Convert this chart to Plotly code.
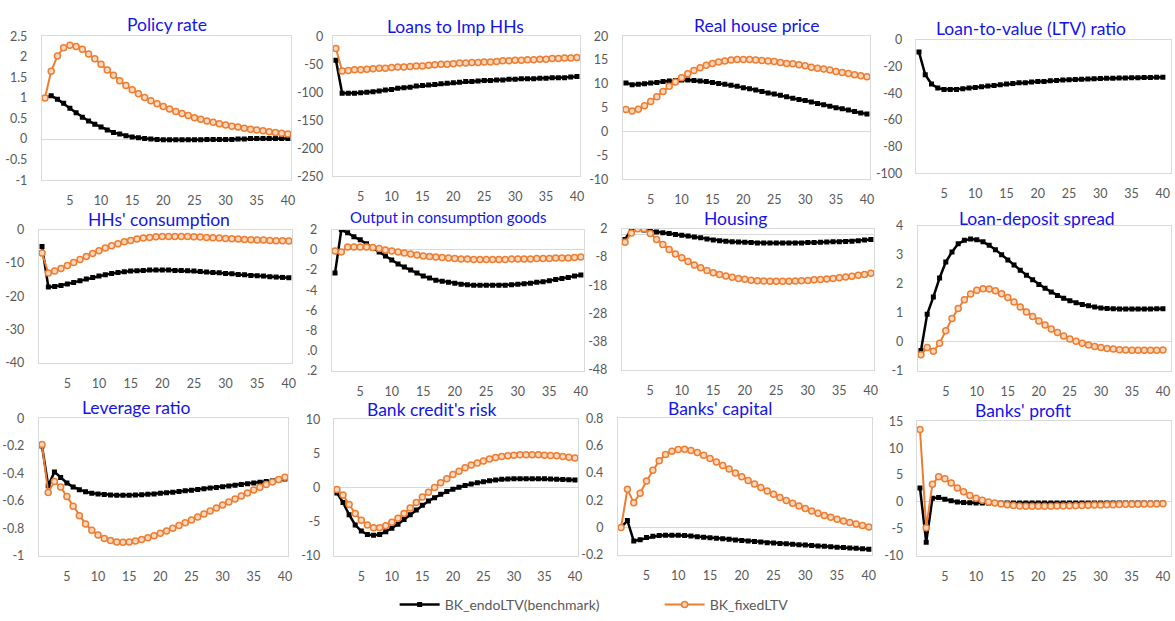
import plotly.graph_objects as go

W, H = 1175, 621

periods = list(range(1, 41))
x_tick_vals = [5, 10, 15, 20, 25, 30, 35, 40]
x_tick_text = ["5", "10", "15", "20", "25", "30", "35", "40"]

series_names = ["BK_endoLTV(benchmark)", "BK_fixedLTV"]

titles = ["Policy rate", "Loans to Imp HHs", "Real house price", "Loan-to-value (LTV) ratio",
          "HHs' consumption", "Output in consumption goods", "Housing", "Loan-deposit spread",
          "Leverage ratio", "Bank credit's risk", "Banks' capital", "Banks' profit"]

# ---------------- data ----------------
endo_policy = [1.0, 1.05, 0.97, 0.87, 0.75, 0.64, 0.53, 0.44, 0.36, 0.29, 0.22, 0.16, 0.12, 0.08, 0.05,
               0.03, 0.01, 0.0, -0.01, -0.02, -0.02, -0.02, -0.02, -0.02, -0.02, -0.02, -0.01, -0.01,
               -0.01, -0.01, -0.01, 0.0, 0.0, 0.01, 0.01, 0.01, 0.01, 0.01, 0.01, 0.01]
fixed_policy = [1.0, 1.65, 2.02, 2.22, 2.28, 2.25, 2.18, 2.07, 1.95, 1.82, 1.68, 1.55, 1.42, 1.30, 1.20,
                1.10, 1.01, 0.93, 0.86, 0.79, 0.73, 0.67, 0.62, 0.57, 0.52, 0.48, 0.44, 0.41, 0.37,
                0.34, 0.31, 0.29, 0.26, 0.24, 0.22, 0.20, 0.18, 0.16, 0.14, 0.12]

endo_loans = [-43, -102, -102, -102, -101, -100, -99, -98, -96, -95, -93, -92, -91, -89, -88, -87, -86,
              -85, -84, -83, -82, -81, -81, -80, -79, -79, -78, -78, -77, -77, -76, -76, -76, -75, -75,
              -74, -74, -74, -73, -72]
fixed_loans = [-22, -62, -61, -60, -60, -59, -58, -57, -57, -56, -55, -55, -54, -53, -53, -52, -51, -50,
               -50, -49, -48, -48, -47, -47, -46, -46, -45, -44, -44, -43, -43, -42, -42, -41, -41, -40,
               -40, -39, -39, -38]

endo_house = [10.2, 9.8, 9.9, 10.0, 10.2, 10.3, 10.5, 10.6, 10.7, 10.8, 10.8, 10.7, 10.6, 10.5, 10.3,
              10.1, 9.9, 9.7, 9.5, 9.2, 9.0, 8.7, 8.4, 8.1, 7.9, 7.6, 7.3, 7.0, 6.7, 6.5, 6.2, 5.9, 5.6,
              5.3, 5.0, 4.8, 4.5, 4.2, 3.9, 3.7]
fixed_house = [4.6, 4.3, 4.7, 5.4, 6.3, 7.3, 8.4, 9.5, 10.4, 11.3, 12.1, 12.8, 13.4, 13.9, 14.3, 14.6,
               14.8, 15.0, 15.1, 15.1, 15.1, 15.0, 14.9, 14.8, 14.7, 14.5, 14.3, 14.2, 14.0, 13.8, 13.5,
               13.3, 13.1, 12.9, 12.6, 12.4, 12.2, 11.9, 11.7, 11.5]

endo_ltv = [-9, -26, -33, -36, -37, -37, -37, -36.5, -36, -35.5, -35, -34.5, -34, -33.5, -33, -32.5,
            -32, -32, -31.5, -31, -31, -30.5, -30.3, -30, -29.8, -29.6, -29.4, -29.2, -29, -28.9,
            -28.7, -28.6, -28.5, -28.4, -28.3, -28.2, -28.1, -28, -27.9, -27.8]
fixed_ltv = None

endo_cons = [-5, -17.2, -17.0, -16.7, -16.3, -15.8, -15.3, -14.8, -14.3, -13.9, -13.5, -13.1, -12.8,
             -12.6, -12.4, -12.3, -12.2, -12.1, -12.1, -12.1, -12.1, -12.2, -12.2, -12.3, -12.4, -12.5,
             -12.7, -12.8, -12.9, -13.1, -13.2, -13.4, -13.5, -13.7, -13.8, -13.9, -14.1, -14.2, -14.3,
             -14.4]
fixed_cons = [-7, -13, -12.4, -11.6, -10.7, -9.8, -8.9, -8.0, -7.1, -6.3, -5.5, -4.8, -4.2, -3.6, -3.2,
              -2.8, -2.5, -2.3, -2.1, -2.0, -2.0, -2.0, -2.0, -2.0, -2.1, -2.2, -2.3, -2.4, -2.5, -2.6,
              -2.7, -2.8, -2.9, -3.0, -3.1, -3.1, -3.2, -3.3, -3.3, -3.4]

endo_output = [-2.3, 2.0, 1.7, 1.3, 1.0, 0.6, 0.2, -0.2, -0.6, -1.0, -1.4, -1.7, -2.0, -2.3, -2.6, -2.8,
               -3.0, -3.1, -3.2, -3.3, -3.4, -3.45, -3.5, -3.5, -3.5, -3.5, -3.5, -3.5, -3.45, -3.4,
               -3.35, -3.3, -3.2, -3.15, -3.05, -2.95, -2.85, -2.75, -2.6, -2.5]
fixed_output = [-0.1, -0.2, 0.3, 0.3, 0.3, 0.3, 0.25, 0.15, 0.0, -0.1, -0.2, -0.3, -0.4, -0.5, -0.6,
                -0.65, -0.7, -0.75, -0.8, -0.85, -0.9, -0.9, -0.95, -0.95, -0.95, -0.95, -0.95, -0.95,
                -0.9, -0.9, -0.9, -0.9, -0.85, -0.85, -0.85, -0.8, -0.8, -0.8, -0.75, -0.7]

endo_housing = [-1.8, 1.8, 2.0, 1.6, 1.2, 0.9, 0.6, 0.3, 0.0, -0.3, -0.6, -0.9, -1.2, -1.6, -2.0, -2.2,
                -2.4, -2.6, -2.7, -2.8, -2.9, -3.0, -3.0, -3.0, -3.0, -3.0, -3.0, -3.0, -3.0, -2.9,
                -2.9, -2.8, -2.7, -2.6, -2.6, -2.5, -2.4, -2.2, -2.0, -1.8]
fixed_housing = [-2.8, 0.5, 2.0, 2.0, 0.3, -1.8, -3.6, -5.3, -6.9, -8.3, -9.6, -10.8, -11.8, -12.8,
                 -13.6, -14.2, -14.7, -15.2, -15.6, -15.9, -16.2, -16.4, -16.5, -16.6, -16.6, -16.6,
                 -16.6, -16.5, -16.4, -16.3, -16.1, -16.0, -15.8, -15.6, -15.4, -15.1, -14.8, -14.5,
                 -14.2, -13.8]

endo_spread = [-0.3, 0.95, 1.55, 2.2, 2.75, 3.1, 3.38, 3.5, 3.55, 3.52, 3.45, 3.33, 3.18, 3.0, 2.82,
               2.65, 2.47, 2.3, 2.14, 1.98, 1.85, 1.72, 1.6, 1.5, 1.42, 1.35, 1.29, 1.24, 1.2, 1.17,
               1.15, 1.14, 1.13, 1.13, 1.13, 1.13, 1.13, 1.13, 1.14, 1.14]
fixed_spread = [-0.45, -0.2, -0.33, -0.05, 0.38, 0.8, 1.15, 1.45, 1.65, 1.78, 1.83, 1.82, 1.76, 1.66,
                1.53, 1.37, 1.2, 1.03, 0.87, 0.72, 0.58, 0.44, 0.32, 0.2, 0.1, 0.02, -0.05, -0.11,
                -0.16, -0.2, -0.23, -0.25, -0.27, -0.28, -0.29, -0.29, -0.29, -0.29, -0.29, -0.28]

endo_leverage = [-0.2, -0.49, -0.39, -0.43, -0.47, -0.50, -0.52, -0.535, -0.545, -0.55, -0.555, -0.558,
                 -0.56, -0.56, -0.56, -0.558, -0.556, -0.553, -0.55, -0.546, -0.542, -0.538, -0.533,
                 -0.528, -0.523, -0.518, -0.513, -0.508, -0.503, -0.498, -0.493, -0.488, -0.482,
                 -0.477, -0.471, -0.466, -0.46, -0.454, -0.448, -0.442]
fixed_leverage = [-0.19, -0.54, -0.46, -0.5, -0.57, -0.64, -0.71, -0.77, -0.815, -0.85, -0.875, -0.89,
                  -0.9, -0.903, -0.9, -0.893, -0.883, -0.87, -0.855, -0.838, -0.82, -0.8, -0.78, -0.76,
                  -0.74, -0.718, -0.697, -0.675, -0.653, -0.631, -0.609, -0.587, -0.565, -0.543,
                  -0.522, -0.502, -0.482, -0.463, -0.445, -0.428]

endo_risk = [-0.8, -2.2, -4.0, -5.5, -6.4, -6.9, -7.0, -6.9, -6.5, -6.0, -5.4, -4.7, -4.0, -3.3, -2.6,
             -2.0, -1.5, -1.0, -0.6, -0.25, 0.05, 0.3, 0.5, 0.7, 0.85, 1.0, 1.1, 1.2, 1.25, 1.3, 1.3,
             1.3, 1.3, 1.3, 1.28, 1.25, 1.22, 1.18, 1.14, 1.1]
fixed_risk = [-0.3, -1.1, -2.5, -3.8, -4.8, -5.5, -5.9, -5.9, -5.6, -5.1, -4.5, -3.8, -3.0, -2.2, -1.4,
              -0.7, 0.0, 0.7, 1.3, 1.9, 2.4, 2.9, 3.3, 3.6, 3.9, 4.2, 4.4, 4.55, 4.65, 4.75, 4.8, 4.8,
              4.8, 4.8, 4.75, 4.7, 4.65, 4.55, 4.45, 4.35]

endo_capital = [0.0, 0.05, -0.1, -0.09, -0.075, -0.065, -0.06, -0.058, -0.057, -0.058, -0.06, -0.064,
                -0.068, -0.072, -0.076, -0.08, -0.084, -0.088, -0.092, -0.096, -0.1, -0.104, -0.108,
                -0.112, -0.115, -0.118, -0.121, -0.124, -0.127, -0.13, -0.133, -0.136, -0.139,
                -0.142, -0.145, -0.148, -0.151, -0.153, -0.156, -0.16]
fixed_capital = [0.0, 0.28, 0.18, 0.25, 0.34, 0.42, 0.49, 0.535, 0.56, 0.572, 0.573, 0.565, 0.55, 0.53,
                 0.505, 0.48, 0.455, 0.428, 0.4, 0.372, 0.345, 0.318, 0.292, 0.267, 0.243, 0.22,
                 0.198, 0.177, 0.157, 0.138, 0.12, 0.104, 0.088, 0.074, 0.06, 0.047, 0.035, 0.024,
                 0.013, 0.003]

endo_profit = [2.6, -7.5, 0.7, 0.8, 0.5, 0.2, 0.0, -0.1, -0.15, -0.2, -0.2, -0.2, -0.2, -0.2, -0.2,
               -0.2, -0.2, -0.2, -0.2, -0.2, -0.2, -0.2, -0.2, -0.2, -0.2, -0.2, -0.2, -0.2, -0.2,
               -0.2, -0.2, -0.2, -0.2, -0.2, -0.2, -0.2, -0.2, -0.2, -0.2, -0.2]
fixed_profit = [13.5, -4.8, 3.3, 4.7, 4.3, 3.5, 2.6, 1.9, 1.2, 0.7, 0.3, 0.0, -0.2, -0.4, -0.55, -0.65,
                -0.75, -0.8, -0.8, -0.8, -0.8, -0.8, -0.78, -0.75, -0.72, -0.7, -0.67, -0.64, -0.6,
                -0.57, -0.54, -0.51, -0.48, -0.46, -0.44, -0.42, -0.4, -0.38, -0.37, -0.36]

# y tick values / labels per panel
y_ticks = [
    [-1, -0.5, 0, 0.5, 1, 1.5, 2, 2.5],
    [-250, -200, -150, -100, -50, 0],
    [-10, -5, 0, 5, 10, 15, 20],
    [-100, -80, -60, -40, -20, 0],
    [-40, -30, -20, -10, 0],
    [-12, -10, -8, -6, -4, -2, 0, 2],
    [-48, -38, -28, -18, -8, 2],
    [-1, 0, 1, 2, 3, 4],
    [-1, -0.8, -0.6, -0.4, -0.2, 0],
    [-10, -5, 0, 5, 10],
    [-0.2, 0, 0.2, 0.4, 0.6, 0.8],
    [-10, -5, 0, 5, 10, 15],
]
y_tick_text = [
    ["-1", "-0.5", "0", "0.5", "1", "1.5", "2", "2.5"],
    ["-250", "-200", "-150", "-100", "-50", "0"],
    ["-10", "-5", "0", "5", "10", "15", "20"],
    ["-100", "-80", "-60", "-40", "-20", "0"],
    ["-40", "-30", "-20", "-10", "0"],
    [".2", ".0", "-8", "-6", "-4", "-2", "0", "2"],
    ["-48", "-38", "-28", "-18", "-8", "2"],
    ["-1", "0", "1", "2", "3", "4"],
    ["-1", "-0.8", "-0.6", "-0.4", "-0.2", "0"],
    ["-10", "-5", "0", "5", "10"],
    ["-0.2", "0", "0.2", "0.4", "0.6", "0.8"],
    ["-10", "-5", "0", "5", "10", "15"],
]

endo_all = [endo_policy, endo_loans, endo_house, endo_ltv, endo_cons, endo_output, endo_housing,
            endo_spread, endo_leverage, endo_risk, endo_capital, endo_profit]
fixed_all = [fixed_policy, fixed_loans, fixed_house, fixed_ltv, fixed_cons, fixed_output,
             fixed_housing, fixed_spread, fixed_leverage, fixed_risk, fixed_capital, fixed_profit]

# ---------------- layout (pixel boxes) ----------------
plot_boxes = [  # x0, x1, ytop, ybottom
    (42, 292, 29, 177), (334, 582, 29, 173), (625, 873, 29, 176), (919, 1175, 33, 170),
    (39, 293, 228, 365), (333, 586, 228, 373), (624, 877, 227, 372), (921, 1175, 224, 373),
    (39, 289, 422, 563), (335, 580, 423, 563), (620, 875, 422, 562), (920, 1175, 425, 563),
]
# right-column panels are cut by the page edge; widen the x range so the "40" label still fits
x_max = [40.5, 40.5, 40.5, 41.3, 40.5, 40.5, 40.5, 41.3, 40.5, 40.5, 40.5, 41.3]
title_pos = [(168, 17), (457, 19), (760, 18), (1035, 21),
             (160, 217), (450, 215), (738, 216), (1041, 216),
             (137, 411), (433, 413), (722, 412), (1027, 414)]
title_sizes = [17.5, 17.5, 17.5, 17.5, 17.5, 15, 17.5, 17.5, 17.5, 17.5, 17.5, 17.5]
y_standoff = [11, 6, 11, 10, 11, 11, 11, 11, 11, 10, 11, 10]

BLACK = "#000000"
ORANGE = "#ED7D31"
FONT = "Lato"
GRAY = "#595959"
LINE_GRAY = "#D9D9D9"

fig = go.Figure()
layout = {}
annotations = []

for i in range(12):
    n = i + 1
    xa = "x" if n == 1 else f"x{n}"
    ya = "y" if n == 1 else f"y{n}"
    x0, x1, yt, yb = plot_boxes[i]
    fig.add_trace(go.Scatter(
        x=periods, y=endo_all[i], xaxis=xa, yaxis=ya, mode="lines+markers",
        name=series_names[0], legendgroup="endo", showlegend=(i == 0),
        line=dict(color=BLACK, width=2.5),
        marker=dict(symbol="square", size=5, color=BLACK),
    ))
    if fixed_all[i] is not None:
        fig.add_trace(go.Scatter(
            x=periods, y=fixed_all[i], xaxis=xa, yaxis=ya, mode="lines+markers",
            name=series_names[1], legendgroup="fixed", showlegend=(i == 0),
            line=dict(color=ORANGE, width=2),
            marker=dict(symbol="circle", size=6, color="#FBD9C0",
                        line=dict(color=ORANGE, width=1.5)),
        ))
    yk = ya.replace("y", "yaxis")
    xk = xa.replace("x", "xaxis")
    layout[xk] = dict(
        domain=[x0 / W, min(x1 / W, 1.0)], anchor=ya, range=[0.5, x_max[i]],
        tickmode="array", tickvals=x_tick_vals, ticktext=x_tick_text,
        showgrid=False, zeroline=False, showline=True, mirror=True, linecolor=LINE_GRAY,
        linewidth=1, ticks="", ticklabelstandoff=9,
        tickfont=dict(family=FONT, size=12.5, color=GRAY),
    )
    yvals = y_ticks[i]
    layout[yk] = dict(
        domain=[1 - yb / H, 1 - yt / H], anchor=xa, range=[yvals[0], yvals[-1]],
        tickmode="array", tickvals=yvals, ticktext=y_tick_text[i],
        showgrid=False, zeroline=True, zerolinecolor=LINE_GRAY, zerolinewidth=1,
        showline=True, mirror=True, linecolor=LINE_GRAY, linewidth=1, ticks="",
        ticklabelstandoff=y_standoff[i],
        tickfont=dict(family=FONT, size=12.5, color=GRAY),
    )
    tx, ty = title_pos[i]
    annotations.append(dict(
        text=titles[i], x=tx / W, y=1 - ty / H, xref="paper", yref="paper",
        xanchor="center", yanchor="middle", showarrow=False,
        font=dict(family=FONT, size=title_sizes[i], color="#1414E6"),
    ))

fig.update_layout(
    **layout,
    annotations=annotations,
    width=W, height=H,
    margin=dict(l=0, r=0, t=0, b=0),
    paper_bgcolor="white", plot_bgcolor="white",
    showlegend=True,
    legend=dict(orientation="h", x=396 / W, y=1 - 614 / H, xanchor="left", yanchor="middle",
                font=dict(family=FONT, size=14, color=GRAY), itemwidth=40,
                entrywidth=210, bgcolor="rgba(0,0,0,0)"),
)

# remove the browser's default page margin so the figure sits at the top-left corner
fig.write_html(
    "out.html",
    config={"displayModeBar": False},
    post_script="document.body.style.margin='0';document.body.style.overflow='hidden';",
)
